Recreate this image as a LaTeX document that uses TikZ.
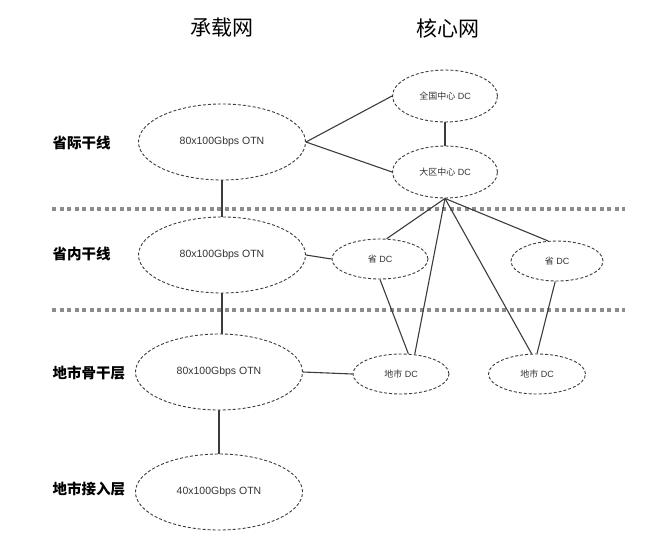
\documentclass[tikz,border=0pt]{standalone}
\usepackage{fontspec}
\setmainfont{Liberation Sans}
\newfontfamily\cjk{Noto Sans CJK SC}
\usetikzlibrary{shapes.geometric}
\definecolor{lnclr}{HTML}{3C3C3C}
\definecolor{sepgray}{HTML}{8C8C8C}
\definecolor{txtclr}{HTML}{333333}

\begin{document}
\begin{tikzpicture}[
  x=1pt, y=-1pt,
  otn/.style={ellipse, draw=lnclr, line width=0.9pt, dash pattern=on 3pt off 2pt,
    minimum width=167pt, minimum height=76pt, inner sep=0pt,
    font=\fontsize{10.5}{12}\selectfont, text=txtclr},
  dc/.style={ellipse, draw=lnclr, line width=0.9pt, dash pattern=on 3pt off 2pt,
    minimum width=96pt, minimum height=40pt, inner sep=0pt,
    font=\fontsize{9}{11}\selectfont, text=txtclr},
  layer/.style={anchor=west, font=\cjk\bfseries\fontsize{14.5}{16}\selectfont},
  title/.style={font=\cjk\fontsize{21}{24}\selectfont},
  link/.style={draw=lnclr, line width=1.1pt},
  sep/.style={draw=sepgray, line width=4pt, dash pattern=on 4.3pt off 3.2pt},
]

\useasboundingbox (0,0) rectangle (652,536);

% Titles
\node[title] (tcarry) at (222,28) {承载网};
\node[title] (tcore) at (448,28) {核心网};

% =============================================
% Layer separators
% =============================================
\draw[sep] (52,209) -- (625,209);
\draw[sep] (52,310) -- (625,310);

% Layer names
\node[layer] (lprov) at (49,143) {省际干线};
\node[layer] (lin) at (49,254) {省内干线};
\node[layer] (lcity) at (49,373) {地市骨干层};
\node[layer] (lacc) at (49,489) {地市接入层};

% =============================================
% Carrier network (left column)
% =============================================
\node[otn] (otna) at (222,142) {80x100Gbps OTN};
\node[otn] (otnb) at (222,255) {80x100Gbps OTN};
\node[otn] (otnc) at (219,372) {80x100Gbps OTN};
\node[otn] (otnd) at (219,492) {40x100Gbps OTN};

\draw[link] (otna) -- (otnb);
\draw[link] (otnb.south) -- (otnb.south |- otnc.north);
\draw[link] (otnc) -- (otnd);

% =============================================
% Core network (right side)
% =============================================
\node[dc, minimum width=105pt, minimum height=52pt] (natdc) at (445,96) {{\cjk 全国中心} DC};
\node[dc, minimum width=105pt, minimum height=52pt] (regdc) at (445,172) {{\cjk 大区中心} DC};

\node[dc] (provl) at (380,259) {{\cjk 省} DC};
\node[dc, minimum width=92pt] (provr) at (557,261) {{\cjk 省} DC};
\node[dc] (cityl) at (401,374) {{\cjk 地市} DC};
\node[dc, minimum width=97pt] (cityr) at (537,374) {{\cjk 地市} DC};

% backbone to national / regional DC
\draw[link] (otna.east) -- (natdc.west);
\draw[link] (otna.east) -- (regdc.west);
\draw[link] (natdc) -- (regdc);

% regional DC fan-out
\draw[link] (regdc.south) -- (provl.72);
\draw[link] (regdc.south) -- (cityl.55);
\draw[link] (regdc.south) -- (cityr.105);
\draw[link] (regdc.south) -- (provr.114);

% province to city DC
\draw[link] (provl.south) -- (cityl.70);
\draw[link] (provr.265) -- (cityr.north);

% carrier to core attachment
\draw[link] (otnb.east) -- (provl.west);
\draw[link] (otnc.east) -- (cityl.west);

\end{tikzpicture}
\end{document}
